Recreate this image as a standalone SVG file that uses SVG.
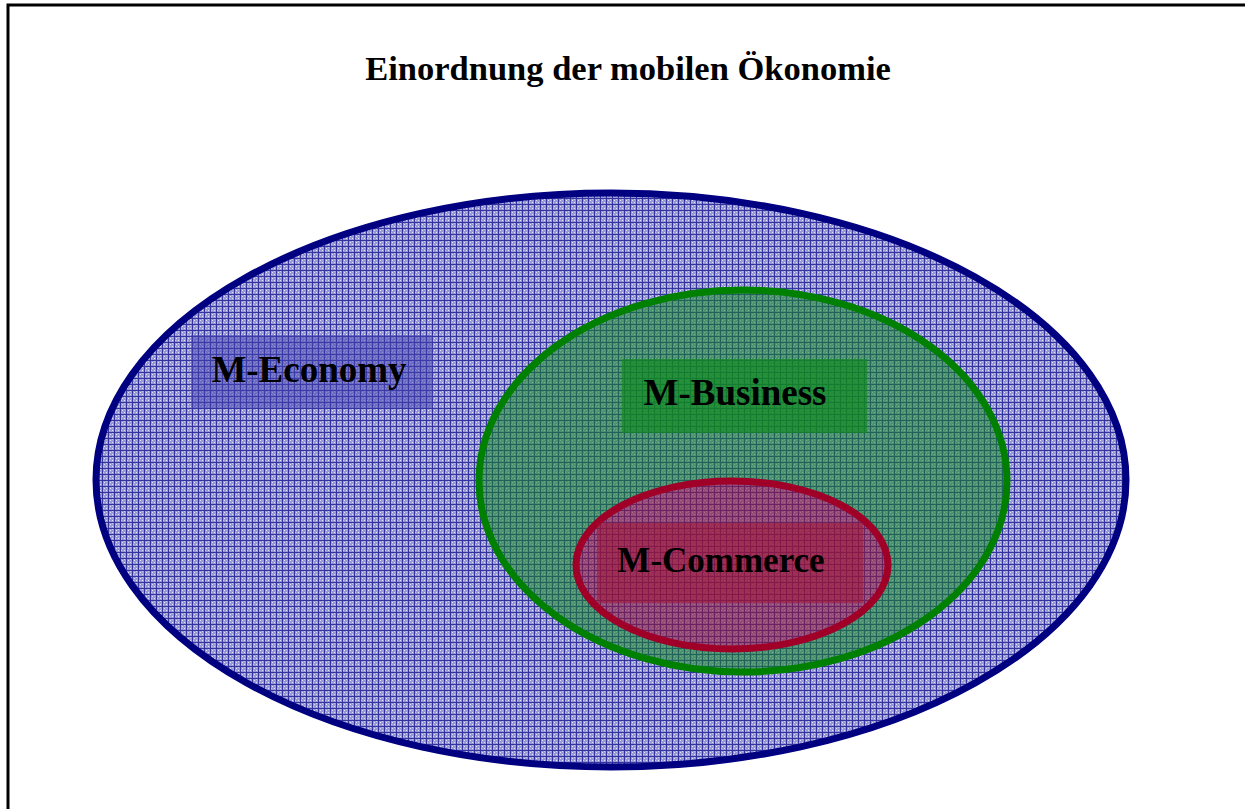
<svg xmlns="http://www.w3.org/2000/svg" width="1245" height="809" viewBox="0 0 1245 809">
  <style>
    .title { font-family: "Liberation Serif", "Times New Roman", serif; font-weight: bold; font-size: 34.5px; fill: #000; }
    .label { font-family: "Liberation Serif", "Times New Roman", serif; font-weight: bold; font-size: 37px; fill: #000; }
  </style>
  <defs>
    <!-- fine woven grid used as the fill of all three sets -->
    <pattern id="grid" width="6" height="6" patternUnits="userSpaceOnUse">
      <rect width="6" height="6" fill="#9898d4"/>
      <rect x="2" y="2" width="1" height="1" fill="#e4e4f6"/>
      <rect x="4" y="4" width="1" height="1" fill="#e4e4f6"/>
      <rect x="4" y="1" width="1" height="1" fill="#c8c8ee"/>
      <rect x="1" y="4" width="1" height="1" fill="#c8c8ee"/>
      <rect x="0" y="0" width="6" height="1" fill="#3434a0"/>
      <rect x="0" y="0" width="1" height="6" fill="#3434a0"/>
    </pattern>
  </defs>

  <!-- page frame -->
  <rect x="8" y="5" width="1260" height="830" fill="#fff" stroke="#000" stroke-width="3"/>

  <text class="title" x="628" y="80" text-anchor="middle">Einordnung der mobilen Ökonomie</text>

  <g id="m-economy">
    <ellipse cx="611" cy="480" rx="515" ry="287" fill="url(#grid)" stroke="#000080" stroke-width="7"/>
    <rect x="191" y="335" width="242" height="73" fill="#4040b0" fill-opacity="0.5"/>
    <text class="label" x="309" y="382" text-anchor="middle">M-Economy</text>
  </g>

  <g id="m-business">
    <ellipse cx="743" cy="481" rx="264" ry="191" fill="url(#grid)"/>
    <ellipse cx="743" cy="481" rx="264" ry="191" fill="#108a20" fill-opacity="0.55" stroke="#008000" stroke-width="7"/>
    <rect x="622" y="359" width="245" height="74" fill="#0a8a1a" fill-opacity="0.65"/>
    <text class="label" x="735" y="405" text-anchor="middle">M-Business</text>
  </g>

  <g id="m-commerce">
    <ellipse cx="732" cy="565" rx="156" ry="84" fill="url(#grid)"/>
    <ellipse cx="732" cy="565" rx="156" ry="84" fill="#901838" fill-opacity="0.6" stroke="#a00028" stroke-width="7"/>
    <rect x="597" y="523" width="266" height="80" fill="#a01030" fill-opacity="0.5"/>
    <text class="label" x="721" y="572" text-anchor="middle" style="font-size:35px">M-Commerce</text>
  </g>
</svg>
